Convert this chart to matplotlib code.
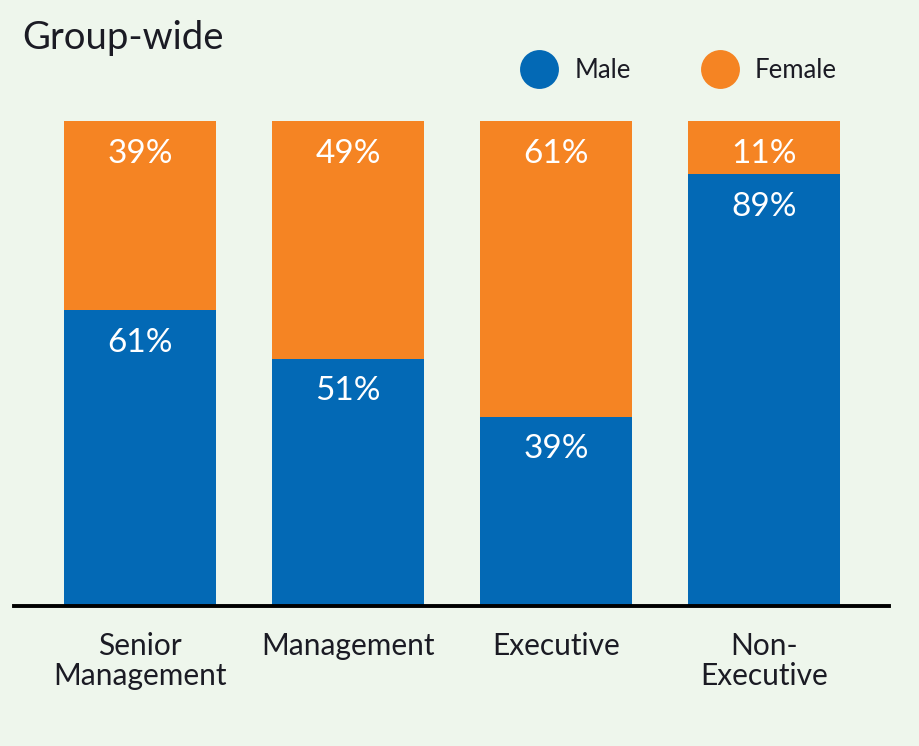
import matplotlib
matplotlib.use("Agg")
import matplotlib.pyplot as plt
from matplotlib.lines import Line2D
import numpy as np

# data
categories = ["Senior\nManagement", "Management", "Executive", "Non-\nExecutive"]
male = [61, 51, 39, 89]
female = [39, 49, 61, 11]
series_names = ["Male", "Female"]

BLUE = "#0369b5"
ORANGE = "#f58423"
BG = "#eef6ec"
INK = "#1b1b24"

plt.rcParams["font.family"] = ["Lato", "DejaVu Sans"]

W, H = 919, 746
fig = plt.figure(figsize=(W / 100, H / 100), dpi=100, facecolor=BG)
ax = fig.add_axes([14 / W, (H - 606) / H, 875 / W, 485 / H])
ax.set_facecolor(BG)

x = np.arange(len(categories))
bw = 0.73
ax.bar(x, male, width=bw, color=BLUE, zorder=2)
ax.bar(x, female, width=bw, bottom=male, color=ORANGE, zorder=2)

# white percentage labels near the top of each segment
for xi, m, f in zip(x, male, female):
    for top, val in ((m, m), (m + f, f)):
        ax.annotate(f"{val}%", (xi, top), xytext=(0, -23.5), textcoords="offset points",
                    ha="center", va="center", color="white", fontsize=24, zorder=3)

ax.set_xlim(-0.606, 3.599)
ax.set_ylim(0, 100)
for s in ("top", "right", "left"):
    ax.spines[s].set_visible(False)
ax.spines["bottom"].set_linewidth(2.8)
ax.spines["bottom"].set_color("black")
ax.spines["bottom"].set_zorder(4)
ax.set_yticks([])
ax.set_xticks(x)
ax.set_xticklabels(categories, fontsize=21.5, color=INK, linespacing=1.1)
ax.tick_params(axis="x", length=0, pad=18.5)

# title
fig.text(22 / W, 1 - 49 / H, "Group-wide", fontsize=27.5, color=INK, ha="left", va="baseline")

# legend drawn as circles + text
for cx, tx, name, col in ((539, 575, series_names[0], BLUE), (720, 755, series_names[1], ORANGE)):
    fig.add_artist(Line2D([cx / W], [1 - 69 / H], marker="o", markersize=28,
                          color=col, markeredgewidth=0, transform=fig.transFigure))
    fig.text(tx / W, 1 - 71 / H, name, fontsize=18.5, color=INK, ha="left", va="center")

fig.savefig("out.png", dpi=100, facecolor=BG)
